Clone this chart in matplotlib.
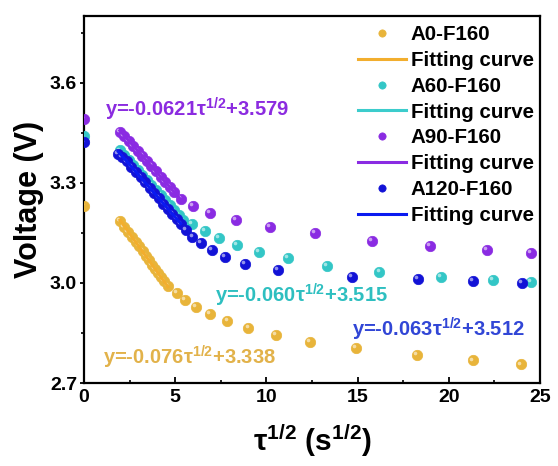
import matplotlib
matplotlib.use("Agg")
import matplotlib.pyplot as plt
import matplotlib.transforms as mtransforms
import numpy as np

plt.rcParams['font.family'] = ['Liberation Sans', 'DejaVu Sans']
plt.rcParams['font.weight'] = 'bold'
plt.rcParams['mathtext.fontset'] = 'custom'
plt.rcParams['mathtext.rm'] = 'Liberation Sans:bold'
plt.rcParams['mathtext.it'] = 'Liberation Sans:bold'
plt.rcParams['mathtext.bf'] = 'Liberation Sans:bold'

# ---- data ----
a0_x = [0, 1.97, 2.2, 2.42, 2.63, 2.83, 3.03, 3.22, 3.4, 3.57, 3.74, 3.9, 4.06, 4.21, 4.36, 4.6,
        5.08, 5.54, 6.14, 6.91, 7.86, 9.01, 10.53, 12.39, 14.91, 18.24, 21.31, 23.94]
a0_v = [3.232, 3.186, 3.169, 3.154, 3.139, 3.124, 3.110, 3.096, 3.082, 3.069, 3.055, 3.042, 3.030, 3.018, 3.007, 2.990,
        2.969, 2.949, 2.927, 2.907, 2.887, 2.864, 2.844, 2.824, 2.804, 2.784, 2.768, 2.756]

a60_x = [0, 1.97, 2.2, 2.45, 2.7, 2.95, 3.2, 3.45, 3.7, 3.95, 4.2, 4.45, 4.7, 4.95, 5.2, 5.44,
         5.9, 6.63, 7.4, 8.37, 9.59, 11.2, 13.3, 16.19, 19.56, 22.41, 24.49]
a60_v = [3.439, 3.397, 3.383, 3.368, 3.353, 3.338, 3.323, 3.308, 3.293, 3.278, 3.263, 3.248, 3.233, 3.218, 3.203, 3.190,
         3.177, 3.156, 3.134, 3.114, 3.094, 3.074, 3.052, 3.034, 3.017, 3.009, 3.002]

a90_x = [0, 1.97, 2.2, 2.45, 2.7, 2.95, 3.2, 3.45, 3.7, 3.95, 4.2, 4.45, 4.7, 4.95, 5.3,
         5.99, 6.91, 8.32, 10.2, 12.66, 15.77, 18.95, 22.11, 24.49]
a90_v = [3.492, 3.452, 3.440, 3.425, 3.410, 3.396, 3.380, 3.365, 3.350, 3.334, 3.318, 3.303, 3.287, 3.272, 3.251,
         3.230, 3.209, 3.189, 3.169, 3.149, 3.127, 3.111, 3.099, 3.089]

a120_x = [0, 1.88, 2.1, 2.35, 2.6, 2.85, 3.1, 3.35, 3.6, 3.85, 4.1, 4.35, 4.6, 4.85, 5.1, 5.3,
          5.57, 5.94, 6.4, 7.0, 7.73, 8.83, 10.65, 14.68, 18.29, 21.34, 24.0]
a120_v = [3.421, 3.386, 3.378, 3.364, 3.348, 3.332, 3.317, 3.301, 3.285, 3.269, 3.254, 3.238, 3.222, 3.206, 3.191, 3.178,
          3.159, 3.139, 3.119, 3.099, 3.077, 3.057, 3.039, 3.017, 3.011, 3.007, 3.001]

# linear fits: slope, intercept, x-range
fit_a0 = (-0.076, 3.338, 1.97, 4.6)
fit_a60 = (-0.060, 3.515, 1.97, 5.44)
fit_a90 = (-0.0621, 3.579, 1.97, 5.3)
fit_a120 = (-0.063, 3.512, 1.88, 5.3)

labels = ['A0-F160', 'A60-F160', 'A90-F160', 'A120-F160']
eq_texts = [r'y=-0.076τ$^{1/2}$+3.338', r'y=-0.060τ$^{1/2}$+3.515',
            r'y=-0.0621τ$^{1/2}$+3.579', r'y=-0.063τ$^{1/2}$+3.512']

# ---- style ----
pt_colors = ['#E8B43A', '#33C6C6', '#8A2BE2', '#1212D6']
ln_colors = ['#F2AE2E', '#3CCCCC', '#8A2BE2', '#0A1AF0']
tx_colors = ['#E2B24A', '#2EBFC0', '#8B2BE0', '#3146D6']
eq_pos = [(1.04, 2.754), (7.18, 2.940), (1.15, 3.498), (14.69, 2.838)]

fig = plt.figure(figsize=(5.58, 4.66), dpi=100)
ax = fig.add_axes([84/558, 1-383/466, (540-84)/558, (383-16)/466])

series = [(a0_x, a0_v, fit_a0), (a60_x, a60_v, fit_a60), (a90_x, a90_v, fit_a90), (a120_x, a120_v, fit_a120)]
hl = mtransforms.offset_copy(ax.transData, fig=fig, x=-1.3, y=1.3, units='points')
handles = []
for i, (xs, vs, fit) in enumerate(series):
    s, b, x0, x1 = fit
    p, = ax.plot(xs, vs, 'o', ms=7.5, color=pt_colors[i], mec=pt_colors[i], mew=0.5,
                 label=labels[i], zorder=3 + i)
    ax.plot(xs, vs, 'o', ms=2.6, color='white', alpha=0.55, mew=0, transform=hl, zorder=3 + i)
    fx = np.array([x0, x1])
    l, = ax.plot(fx, s * fx + b, '-', lw=2.2, color=ln_colors[i], label='Fitting curve', zorder=3 + i)
    handles += [p, l]
    ax.text(eq_pos[i][0], eq_pos[i][1], eq_texts[i], color=tx_colors[i], fontsize=14.5,
            fontweight='bold', va='baseline', ha='left', zorder=10)

ax.set_xlim(0, 25)
ax.set_ylim(2.7, 3.8)
ax.set_xticks([0, 5, 10, 15, 20, 25])
ax.set_xticks([2.5, 7.5, 12.5, 17.5, 22.5], minor=True)
ax.set_yticks([2.7, 3.0, 3.3, 3.6])
ax.set_yticks([2.85, 3.15, 3.45, 3.75], minor=True)
ax.tick_params(axis='x', which='major', direction='in', length=4, width=1.3, labelsize=14, pad=4)
ax.tick_params(axis='x', which='minor', direction='in', length=2.5, width=1.2)
ax.tick_params(axis='y', which='major', direction='out', length=3, width=1.3, labelsize=14, pad=2)
ax.tick_params(axis='y', which='minor', direction='out', length=2, width=1.2)
for lab in ax.get_xticklabels() + ax.get_yticklabels():
    lab.set_fontweight('bold')
for sp in ax.spines.values():
    sp.set_linewidth(1.6)

ax.set_xlabel(r'τ$^{1/2}$ (s$^{1/2}$)', fontsize=21.5, fontweight='bold', labelpad=12)
ax.set_ylabel('Voltage (V)', fontsize=22, fontweight='bold', labelpad=4)

leg = ax.legend(handles=handles, loc='upper left', bbox_to_anchor=(348/558, 1-15/466),
                bbox_transform=fig.transFigure, frameon=False, fontsize=14.8, numpoints=1,
                handlelength=2.3, handletextpad=0.25, borderpad=0, labelspacing=0.33,
                markerscale=0.7)
for t in leg.get_texts():
    t.set_fontweight('bold')

fig.savefig('out.png', dpi=100)
